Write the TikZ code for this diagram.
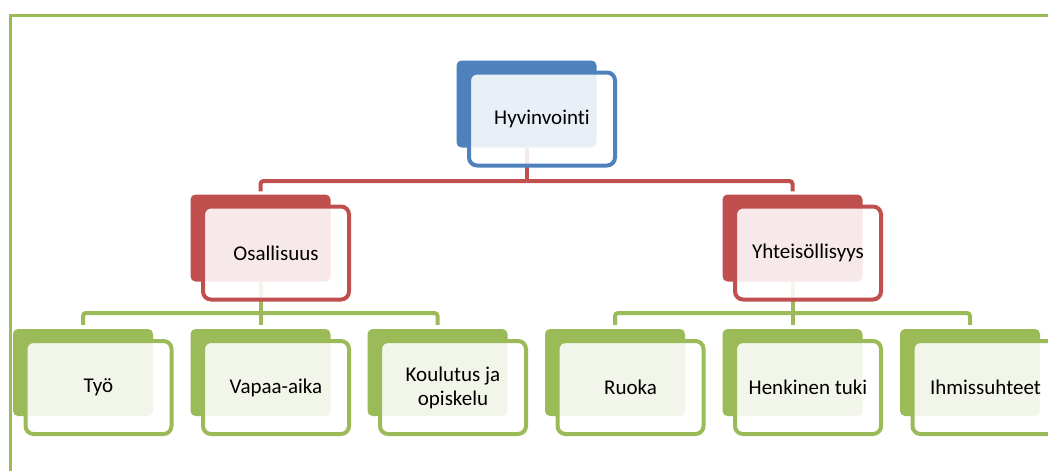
\documentclass[tikz,border=0pt]{standalone}
\usepackage{fontspec}
\setmainfont[Ligatures=NoCommon]{Carlito}
\usetikzlibrary{backgrounds}
\definecolor{accblue}{HTML}{4F81BD}
\definecolor{accred}{HTML}{C0504D}
\definecolor{accgreen}{HTML}{9BBB59}
\begin{document}
\begin{tikzpicture}[x=1pt, y=-1pt,
    back/.style={rectangle, rounded corners=5pt, minimum width=140pt, minimum height=87pt, inner sep=0pt, fill=#1},
    front/.style={rectangle, rounded corners=8pt, minimum width=146pt, minimum height=93pt, inner sep=0pt,
        draw=#1, line width=4pt, fill=white, fill opacity=0.88, text opacity=1, align=center,
        font=\fontsize{21}{24}\selectfont},
    link/.style={line width=4pt, rounded corners=3pt, draw=#1}]
    \useasboundingbox (0,0) rectangle (1048,471);
    \draw[accgreen, line width=3pt] (10,471) -- (10,15) -- (1048,15);

    % top level
    \node[back=accblue] (hyv-b) at (526.5,104) {};
    \node[front=accblue] (hyv) at ([shift={(15.5,15)}]hyv-b) {Hyvinvointi};

    % second level
    \node[back=accred] (osa-b) at (260.5,238) {};
    \node[front=accred] (osa) at ([shift={(15.5,15)}]osa-b) {Osallisuus};
    \node[back=accred] (yht-b) at (792.5,238) {};
    \node[front=accred] (yht) at ([shift={(15.5,15)}]yht-b) {Yhteisöllisyys};

    % third level
    \node[back=accgreen] (tyo-b) at (83,372.5) {};
    \node[front=accgreen] (tyo) at ([shift={(15.5,15)}]tyo-b) {Työ};
    \node[back=accgreen] (vap-b) at (260.5,372.5) {};
    \node[front=accgreen] (vap) at ([shift={(15.5,15)}]vap-b) {Vapaa-aika};
    \node[back=accgreen] (kou-b) at (437.5,372.5) {};
    \node[front=accgreen] (kou) at ([shift={(15.5,15)}]kou-b) {Koulutus ja\\opiskelu};
    \node[back=accgreen] (ruo-b) at (615,372.5) {};
    \node[front=accgreen] (ruo) at ([shift={(15.5,15)}]ruo-b) {Ruoka};
    \node[back=accgreen] (hen-b) at (792.5,372.5) {};
    \node[front=accgreen] (hen) at ([shift={(15.5,15)}]hen-b) {Henkinen tuki};
    \node[back=accgreen] (ihm-b) at (970,372.5) {};
    \node[front=accgreen] (ihm) at ([shift={(15.5,15)}]ihm-b) {Ihmissuhteet};

    % connectors
    \begin{scope}[on background layer]
    \coordinate (hyv-j) at (526.5,181);
    \draw[link=accred] (hyv-b) -- (hyv-j);
    \draw[link=accred, shorten >=3pt] (hyv-j) -| (osa-b);
    \draw[link=accred, shorten >=3pt] (hyv-j) -| (yht-b);

    \coordinate (osa-j) at (260.5,313);
    \draw[link=accgreen] (osa-b) -- (osa-j);
    \draw[link=accgreen, shorten >=4pt] (osa-j) -| (tyo-b);
    \draw[link=accgreen, shorten >=4pt] (osa-j) -- (vap-b);
    \draw[link=accgreen, shorten >=4pt] (osa-j) -| (kou-b);

    \coordinate (yht-j) at (792.5,313);
    \draw[link=accgreen] (yht-b) -- (yht-j);
    \draw[link=accgreen, shorten >=4pt] (yht-j) -| (ruo-b);
    \draw[link=accgreen, shorten >=4pt] (yht-j) -- (hen-b);
    \draw[link=accgreen, shorten >=4pt] (yht-j) -| (ihm-b);
    \end{scope}
\end{tikzpicture}
\end{document}
